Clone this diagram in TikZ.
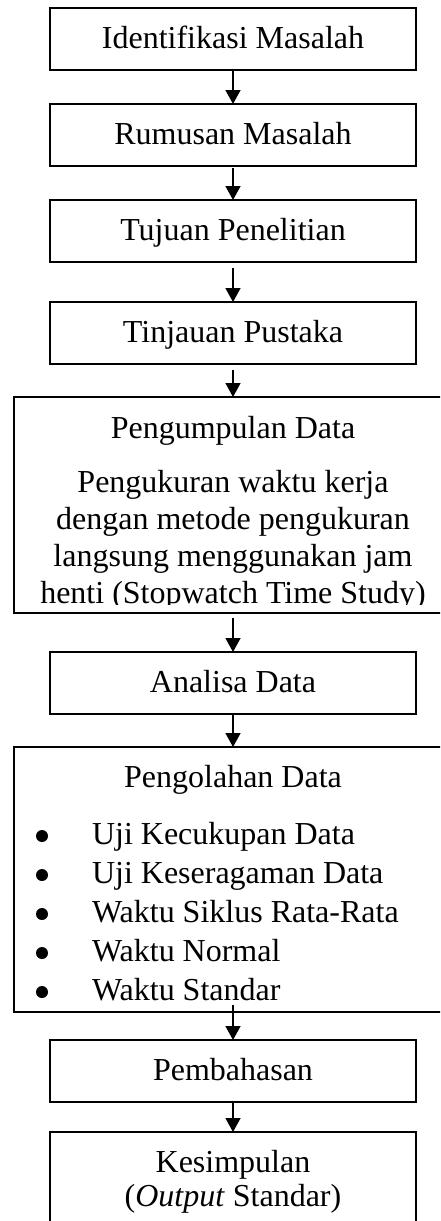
\documentclass[tikz,border=0pt]{standalone}
\usepackage{fontspec}
\setmainfont{Liberation Serif}
\usetikzlibrary{arrows.meta}
\tikzset{
  box/.style={draw, line width=1pt, inner sep=0pt, outer sep=0pt},
  narrowbox/.style={box, minimum width=183pt, minimum height=31pt},
  txt/.style={anchor=base, inner sep=0pt, outer sep=0pt, font=\fontsize{16}{18}\selectfont},
  dot/.style={circle, fill, inner sep=0pt, minimum size=6pt},
  arr/.style={line width=0.75pt, -{Triangle[length=7pt,width=7.5pt]}},
}
\begin{document}
\begin{tikzpicture}[x=0.5pt,y=-0.5pt]
\useasboundingbox (0,0) rectangle (440,1221);
\clip (0,0) rectangle (440,1221);

% boxes (units: 1 = 0.5pt, y grows downwards)
\node[narrowbox] (b1) at (233,39) {};
\node[narrowbox] (b2) at (233,135) {};
\node[narrowbox] (b3) at (233,231) {};
\node[narrowbox] (b4) at (233,333) {};
\node[box, minimum width=228pt, minimum height=108pt] (b5) at (242,505) {};
\node[narrowbox] (b6) at (233,683) {};
\node[box, minimum width=228pt, minimum height=132.5pt] (b7) at (242,879.5) {};
\node[narrowbox] (b8) at (233,1071) {};
\node[box, minimum width=183pt, minimum height=59pt] (b9) at (233,1191) {};

% single-line labels
\node[txt] (t1) at (233,48.5) {Identifikasi Masalah};
\node[txt] (t2) at (233,144.5) {Rumusan Masalah};
\node[txt] (t3) at (233,240.5) {Tujuan Penelitian};
\node[txt] (t4) at (233,342.5) {Tinjauan Pustaka};
\node[txt] (t6) at (233,692.5) {Analisa Data};
\node[txt] (t8) at (233,1080.5) {Pembahasan};

% data collection block; the last line is cut by the frame
\node[txt] (t5a) at (233,438) {Pengumpulan Data};
\begin{scope}
  \clip (14,397) rectangle (470,604);
  \node[txt] (t5b) at (233,492) {Pengukuran waktu kerja};
  \node[txt] (t5c) at (233,529) {dengan metode pengukuran};
  \node[txt] (t5d) at (233,566) {langsung menggunakan jam};
  \node[txt] (t5e) at (233,603.5) {henti (Stopwatch Time Study)};
\end{scope}

% data processing block with bullet list
\node[txt] (t7) at (233,787) {Pengolahan Data};
\foreach \y/\item [count=\i] in {844/Uji Kecukupan Data,
                                 883/Uji Keseragaman Data,
                                 922/Waktu Siklus Rata-Rata,
                                 961/Waktu Normal,
                                 1000/Waktu Standar}{
  \node[dot] (bul\i) at (42,\y-8) {};
  \node[txt, anchor=base west] (item\i) at (92,\y) {\item};
}

% conclusion
\node[txt] (t9a) at (233,1172) {Kesimpulan};
\node[txt] (t9b) at (233,1206) {(\textit{Output} Standar)};

% connectors
\draw[arr] (b1.south) -- (b2.north);
\draw[arr] ([yshift=-1pt]b2.south) -- (b3.north);
\draw[arr] ([yshift=-3pt]b3.south) -- (b4.north);
\draw[arr] ([yshift=-3pt]b4.south) -- (b4.south |- b5.north);
\draw[arr] ([yshift=-2.5pt]b5.south -| b6.north) -- (b6.north);
\draw[arr] (b6.south) -- (b6.south |- b7.north);
\draw[arr] ([yshift=3.5pt]b7.south -| b8.north) -- (b8.north);
\draw[arr] (b8.south) -- (b9.north);
\end{tikzpicture}
\end{document}
